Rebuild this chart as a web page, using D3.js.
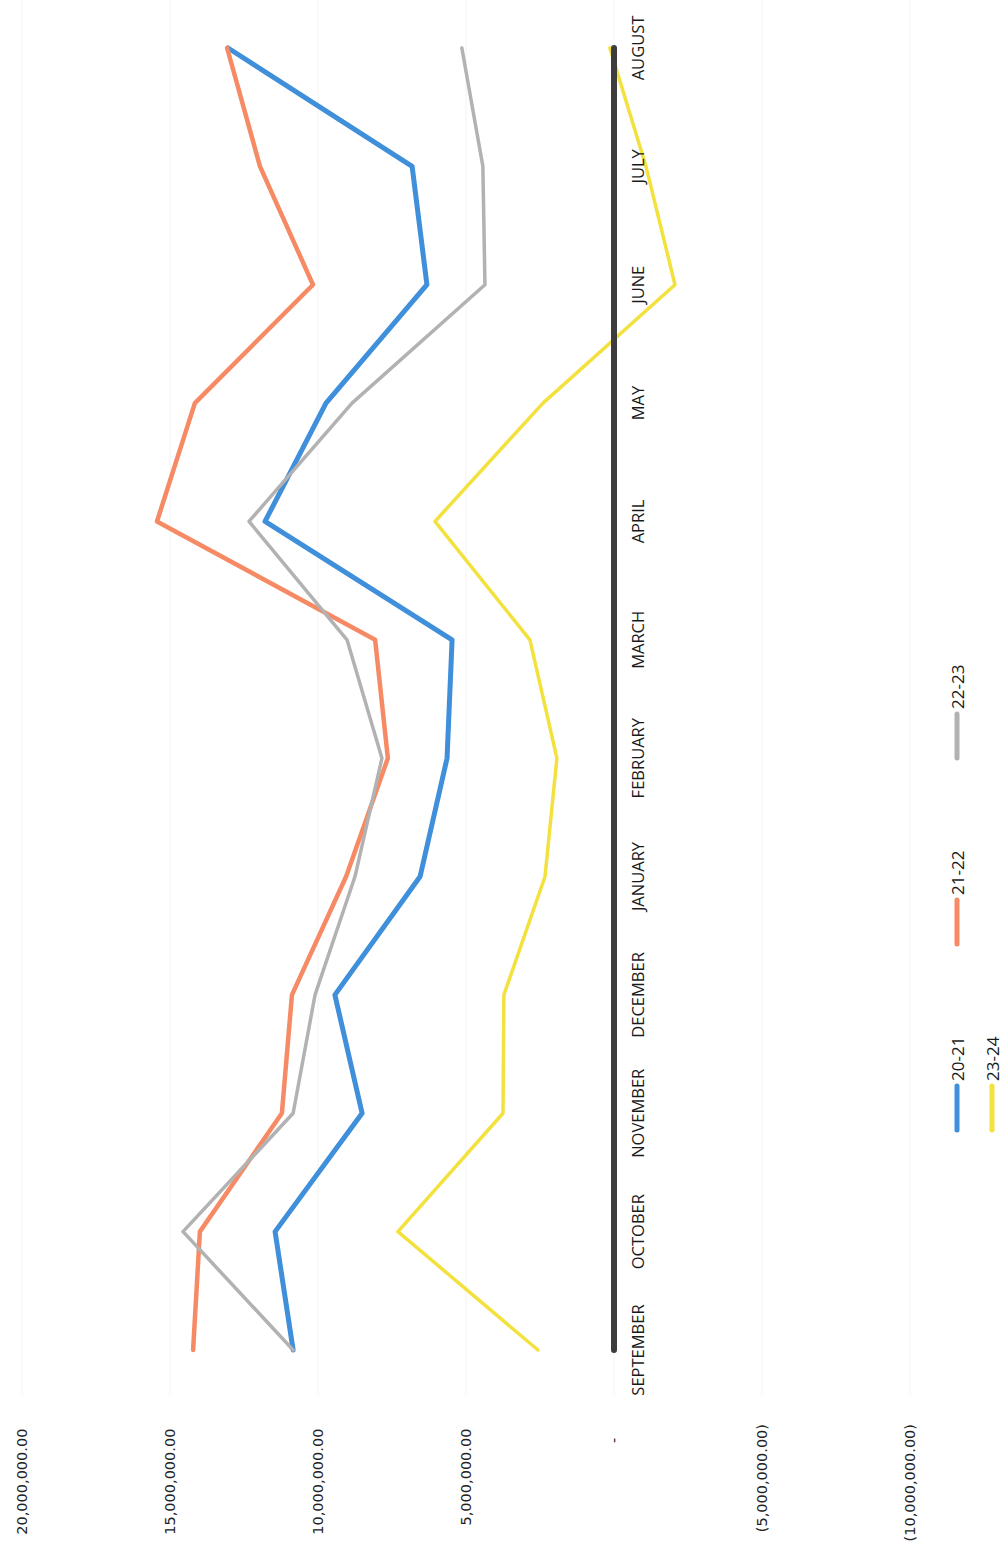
<!DOCTYPE html>
<html>
<head>
<meta charset="utf-8">
<script src="https://cdn.jsdelivr.net/npm/d3@7"></script>
<style>
  html, body { margin: 0; padding: 0; background: #fff; }
  svg { display: block; }
  text { white-space: pre; }
</style>
</head>
<body>
<svg id="chart" width="1005" height="1550"></svg>
<script>
// ---- data ----
const months = ["SEPTEMBER","OCTOBER","NOVEMBER","DECEMBER","JANUARY","FEBRUARY","MARCH","APRIL","MAY","JUNE","JULY","AUGUST"];
const seriesNames = ["20-21","21-22","22-23","23-24"];
const s2021 = [10840000, 11450000, 8510000, 9430000, 6550000, 5640000, 5470000, 11790000, 9730000, 6320000, 6820000, 13040000];
const s2122 = [14220000, 13990000, 11220000, 10880000, 9050000, 7640000, 8070000, 15440000, 14160000, 10170000, 11960000, 13070000];
const s2223 = [10840000, 14560000, 10840000, 10100000, 8750000, 7840000, 9020000, 12330000, 8850000, 4360000, 4430000, 5140000];
const s2324 = [2570000, 7300000, 3750000, 3720000, 2330000, 1930000, 2840000, 6050000, 2400000, -2060000, -1080000, 140000];
const zeroLine = [0,0,0,0,0,0,0,0,0,0,0,0];
const valueTicks = [20000000, 15000000, 10000000, 5000000, 0, -5000000, -10000000];

// ---- styles ----
const colors = ["#3f8fda", "#f68a64", "#b2b2b2", "#f3e13e"];
const widths = [5, 4.5, 3.5, 3.5];
const allSeries = [s2021, s2122, s2223, s2324];

const svg = d3.select("#chart");

// value axis is horizontal (chart rotated): high values to the left
const x = d3.scaleLinear().domain([-10000000, 20000000]).range([910, 22]);
const y = d3.scalePoint().domain(months).range([1350, 48]);

// faint gridlines
svg.append("g").selectAll("line").data(valueTicks).join("line")
  .attr("x1", d => x(d)).attr("x2", d => x(d))
  .attr("y1", 0).attr("y2", 1395)
  .attr("stroke", "#f7f7f7").attr("stroke-width", 1.5);

// value labels (accounting style)
function fmt(v) {
  if (v === 0) return "-   ";
  const s = d3.format(",.2f")(Math.abs(v));
  return v < 0 ? "(" + s + ")" : s + " ";
}
svg.append("g").selectAll("text").data(valueTicks).join("text")
  .attr("transform", d => `translate(${x(d)},1424) rotate(-90)`)
  .attr("text-anchor", "end")
  .attr("dominant-baseline", "central")
  .attr("font-family", "DejaVu Sans, sans-serif")
  .attr("font-size", 14.5)
  .attr("fill", "#222")
  .text(d => fmt(d));

// series lines
const line = d3.line().x(d => x(d.v)).y(d => y(d.m));
allSeries.forEach((s, i) => {
  svg.append("path")
    .datum(s.map((v, k) => ({ m: months[k], v })))
    .attr("d", line)
    .attr("fill", "none")
    .attr("stroke", colors[i])
    .attr("stroke-width", widths[i])
    .attr("stroke-linejoin", "round")
    .attr("stroke-linecap", "round");
});

// zero line
svg.append("path")
  .datum(zeroLine.map((v, k) => ({ m: months[k], v })))
  .attr("d", line)
  .attr("fill", "none")
  .attr("stroke", "#3d3d3d")
  .attr("stroke-width", 6)
  .attr("stroke-linecap", "round");

// month labels
svg.append("g").selectAll("text").data(months).join("text")
  .attr("transform", d => `translate(637,${y(d)}) rotate(-90)`)
  .attr("text-anchor", "middle")
  .attr("dominant-baseline", "central")
  .attr("font-family", "Liberation Sans Narrow, Arial Narrow, Open Sans, sans-serif")
  .attr("font-size", 16.5)
  .attr("fill", "#1a1a1a")
  .text(d => d);

// legend
const leg = svg.append("g").selectAll("g").data(seriesNames).join("g")
  .attr("transform", (d, i) => `translate(${957 + 35 * Math.floor(i / 3)},${1130 - 186 * (i % 3)})`);
leg.append("line")
  .attr("x1", 0).attr("x2", 0).attr("y1", 0).attr("y2", -44)
  .attr("stroke", (d, i) => colors[i])
  .attr("stroke-width", 5)
  .attr("stroke-linecap", "round");
leg.append("text")
  .attr("transform", "translate(0,-49) rotate(-90)")
  .attr("text-anchor", "start")
  .attr("dominant-baseline", "central")
  .attr("font-family", "Liberation Sans Narrow, Arial Narrow, Open Sans, sans-serif")
  .attr("font-size", 17)
  .attr("fill", "#1a1a1a")
  .text(d => d);
</script>
</body>
</html>
